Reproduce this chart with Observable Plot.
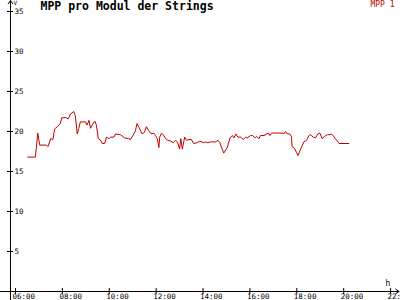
<!DOCTYPE html>
<html>
<head>
<meta charset="utf-8">
<script src="https://cdn.jsdelivr.net/npm/d3@7"></script>
<script src="https://cdn.jsdelivr.net/npm/@observablehq/plot@0.6"></script>
<style>
  html, body { margin: 0; padding: 0; background: #fff; }
  #chart svg { display: block; }
</style>
</head>
<body>
<div id="chart"></div>
<script>
const title = "MPP pro Modul der Strings";
const seriesName = "MPP 1";
const yUnit = "V";
const xUnit = "h";

const times = [
  "06:31","06:51","06:57","07:02","07:19","07:23","07:30","07:36","07:40","07:47",
  "07:55","07:58","08:08","08:15","08:21","08:29","08:33","08:38","08:42","08:46",
  "08:59","09:03","09:08","09:12","09:16","09:23","09:27","09:32","09:38","09:42",
  "09:48","09:53","09:59","10:03","10:12","10:16","10:29","10:39","10:50","10:54",
  "11:03","11:07","11:11","11:16","11:24","11:30","11:35","11:41","11:47","11:54",
  "11:58","12:03","12:07","12:09","12:14","12:18","12:26","12:30","12:37","12:44",
  "12:50","12:55","13:00","13:03","13:07","13:13","13:18","13:24","13:30","13:36",
  "13:45","13:52","14:02","14:06","14:11","14:19","14:32","14:38","14:43","14:49",
  "14:53","15:02","15:09","15:15","15:19","15:24","15:29","15:36","15:43","15:49",
  "15:53","16:02","16:07","16:13","16:17","16:23","16:27","16:36","16:47","16:51",
  "16:55","17:01","17:23","17:27","17:31","17:35","17:42","17:46","17:48","17:54",
  "17:59","18:03","18:08","18:14","18:18","18:25","18:31","18:35","18:42","18:48",
  "18:54","18:59","19:05","19:11","19:18","19:25","19:28","19:33","19:38","19:43",
  "19:45","19:48","20:13"
];
const values = [
  16.8,16.8,19.8,18.3,18.3,18.1,19.1,19.0,20.3,20.6,
  21.0,21.7,21.75,21.6,22.2,22.5,22.0,19.7,20.4,21.2,
  21.2,20.8,21.4,20.4,20.8,21.3,20.8,19.1,18.9,18.5,
  18.5,19.3,19.1,19.3,19.3,19.7,19.6,19.2,19.1,19.0,
  19.7,20.1,21.0,20.5,19.7,19.9,20.6,20.1,19.7,19.8,
  19.5,19.1,18.0,19.3,19.8,19.6,19.0,18.9,18.8,18.6,
  18.9,18.6,17.8,19.1,17.8,19.3,18.9,19.0,19.0,18.5,
  18.6,18.8,18.6,18.7,18.6,18.7,18.7,18.9,18.6,17.8,
  17.3,18.0,19.2,19.5,19.2,19.7,19.3,19.3,19.0,19.3,
  19.2,19.5,19.5,19.2,19.4,19.1,19.5,19.5,19.8,19.5,
  19.8,19.8,19.8,19.7,20.0,19.7,19.7,19.4,18.1,17.9,
  17.4,17.0,17.6,18.25,18.7,18.9,19.5,19.6,19.3,19.2,
  19.7,19.8,19.1,19.4,19.6,19.6,19.7,19.5,19.1,18.9,
  18.7,18.5,18.5
];

const xTicks = [6, 8, 10, 12, 14, 16, 18, 20, 22];
const xTickLabels = ["06:00","08:00","10:00","12:00","14:00","16:00","18:00","20:00","22:00"];
const yTicks = [5, 10, 15, 20, 25, 30, 35];

const toHours = s => { const [h, m] = s.split(":").map(Number); return h + m / 60; };
const data = times.map((t, i) => ({ t: toHours(t), v: values[i] }));

// axis geometry (frame structure)
const xDomain = [5.36, 22.38];
const yDomain = [-1.125, 36.375];
const yAxisAt = 5.787;   // x position of vertical axis
const xAxisAt = 0;       // y position of horizontal axis

const font = "DejaVu Sans Mono, monospace";
const red = "#c00000";

const chart = Plot.plot({
  width: 400,
  height: 300,
  margin: 0,
  style: { fontFamily: font, background: "#fff", overflow: "hidden" },
  x: { domain: xDomain, range: [0, 399], axis: null },
  y: { domain: yDomain, range: [300, 0], axis: null },
  marks: [
    // axes
    Plot.arrow([0], { x1: yAxisAt, x2: yAxisAt, y1: yDomain[0], y2: yDomain[1], stroke: "black", strokeWidth: 1, headLength: 6, headAngle: 70 }),
    Plot.arrow([0], { x1: xDomain[0], x2: xDomain[1] - 0.02, y1: xAxisAt, y2: xAxisAt, stroke: "black", strokeWidth: 1, headLength: 6, headAngle: 70 }),
    // ticks
    Plot.ruleY(yTicks, { y: d => d, x1: yAxisAt, x2: yAxisAt, insetLeft: -3, insetRight: -3, stroke: "black" }),
    Plot.ruleX(xTicks, { x: d => d, y1: xAxisAt, y2: xAxisAt, insetTop: -3, insetBottom: -3, stroke: "black" }),
    // tick labels
    Plot.text(yTicks, { x: yAxisAt, y: d => d, text: d => String(d), dx: 4, textAnchor: "start", lineAnchor: "middle", fontSize: 7.5, fill: "black" }),
    Plot.text(xTicks, { x: d => d, y: xAxisAt, text: (d, i) => xTickLabels[i], dx: -3, dy: 2, textAnchor: "start", lineAnchor: "top", fontSize: 7.5, fill: "black" }),
    // unit labels
    Plot.text([yUnit], { frameAnchor: "top-left", dx: 13, dy: 0, textAnchor: "start", lineAnchor: "top", fontSize: 6, fill: "black" }),
    Plot.text([xUnit], { frameAnchor: "bottom-right", dx: -15, dy: -15, textAnchor: "start", lineAnchor: "bottom", fontSize: 8, fill: "black" }),
    // title & legend
    Plot.text([title], { frameAnchor: "top-left", dx: 40, dy: 1, textAnchor: "start", lineAnchor: "top", fontSize: 11.5, fontWeight: "bold", fill: "black" }),
    Plot.text([seriesName], { frameAnchor: "top-right", dx: -6, dy: 1, textAnchor: "end", lineAnchor: "top", fontSize: 8, fill: red }),
    // data
    Plot.line(data, { x: "t", y: "v", stroke: red, strokeWidth: 1 })
  ]
});
document.getElementById("chart").append(chart);
</script>
</body>
</html>
